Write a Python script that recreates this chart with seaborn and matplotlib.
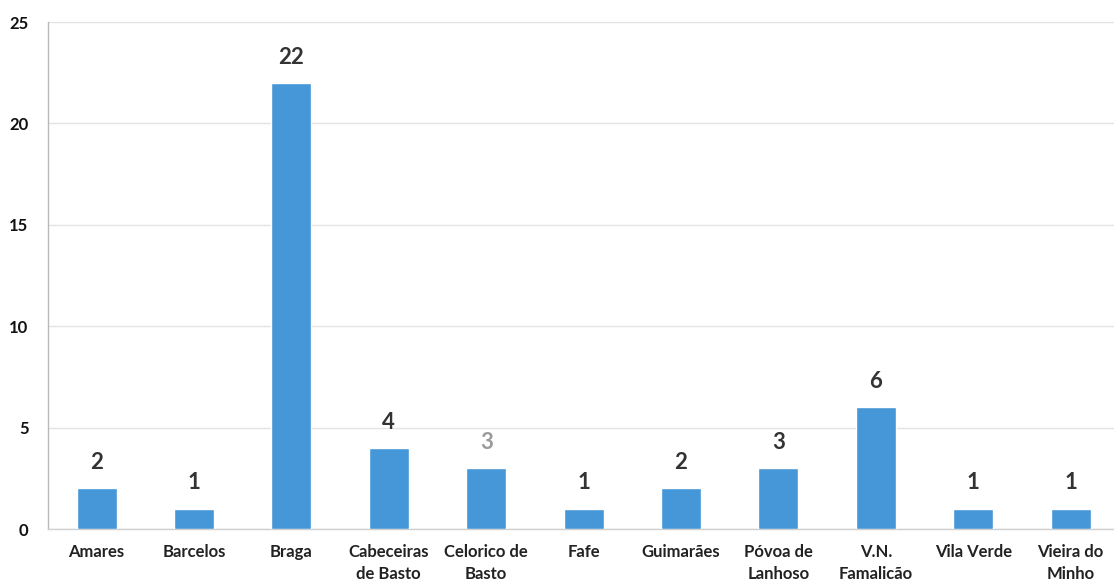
import matplotlib
matplotlib.use("Agg")
import matplotlib.pyplot as plt
import seaborn as sns
import pandas as pd

concelhos = ["Amares", "Barcelos", "Braga", "Cabeceiras\nde Basto", "Celorico de\nBasto",
             "Fafe", "Guimarães", "Póvoa de\nLanhoso", "V.N.\nFamalicão", "Vila Verde",
             "Vieira do\nMinho"]
valores = [2, 1, 22, 4, 3, 1, 2, 3, 6, 1, 1]
y_ticks = [0, 5, 10, 15, 20, 25]

df = pd.DataFrame({"concelho": concelhos, "n": valores})

sns.set_theme(style="white")
plt.rcParams["font.family"] = ["Lato", "DejaVu Sans"]

fig = plt.figure(figsize=(11.14, 5.87), dpi=100)
ax = fig.add_axes([0.043, 0.0988, 0.957 * 1.005, 0.8637])

sns.barplot(data=df, x="concelho", y="n", color="#4597d8", saturation=1,
            width=0.41, ax=ax, zorder=3)

ax.set_ylim(0, 25)
ax.set_xlim(-0.5, len(concelhos) - 0.5)
ax.set_yticks(y_ticks)
ax.set_yticklabels([str(t) for t in y_ticks], fontsize=12, fontweight="bold", color="#111111")
ax.tick_params(axis="y", pad=14, length=0)
ax.tick_params(axis="x", pad=11, length=0)
for lbl in ax.get_xticklabels():
    lbl.set_fontsize(12)
    lbl.set_fontweight("bold")
    lbl.set_color("#222222")
    lbl.set_linespacing(1.45)
ax.set_xlabel("")
ax.set_ylabel("")

ax.yaxis.grid(True, color="#e4e4e4", linewidth=1.0, zorder=0)
for side in ["top", "right"]:
    ax.spines[side].set_visible(False)
ax.spines["left"].set_color("#b8b8b8")
ax.spines["left"].set_linewidth(1.0)
ax.spines["bottom"].set_color("#d0d0d0")
ax.spines["bottom"].set_linewidth(1.0)

cores_rotulo = ["#333333"] * len(valores)
cores_rotulo[4] = "#9a9a9a"
for i, (v, c) in enumerate(zip(valores, cores_rotulo)):
    ax.annotate(str(v), xy=(i, v), xytext=(0, 11), textcoords="offset points",
                ha="center", va="bottom", fontsize=16, fontweight="bold", color=c)

fig.savefig("out.png", dpi=100)
